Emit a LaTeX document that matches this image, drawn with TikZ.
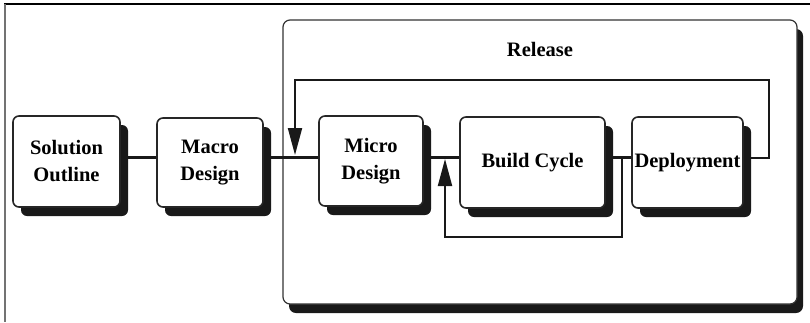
\documentclass[tikz,border=0pt]{standalone}
\usepackage{fontspec}
\setmainfont{Liberation Serif}
\usetikzlibrary{shadows,arrows.meta}
\begin{document}
\begin{tikzpicture}[x=1pt,y=-1pt,
  stage/.style={draw=black!85, line width=1.6pt, fill=white, rounded corners=6pt,
    align=center, inner sep=0pt, font=\fontsize{20.5}{27}\selectfont\bfseries,
    drop shadow={shadow xshift=8pt, shadow yshift=-9pt, fill=black!90, opacity=1}},
  conn/.style={line width=2.2pt, black!90},
  fb/.style={line width=2pt, black!90, -{Triangle[length=27pt,width=14pt]}}
]
\useasboundingbox (0,0) rectangle (810,322);
% page frame
\draw[line width=1.5pt, black] (4,4) -- (810,4);
\draw[line width=2pt, black!55] (4.5,4) -- (4.5,322);
% release box
\node[draw=black!80, line width=1.2pt, fill=white, rounded corners=7pt,
  minimum width=514pt, minimum height=284pt, inner sep=0pt,
  drop shadow={shadow xshift=6pt, shadow yshift=-9pt, fill=black!90, opacity=1}]
  (release) at (540,162) {};
\node[font=\fontsize{20.5}{24}\selectfont\bfseries] (rellabel) at (540,49) {Release};
% stages
\node[stage, minimum width=107pt, minimum height=91pt] (sol) at (66.5,161.5) {Solution\\Outline};
\node[stage, minimum width=106pt, minimum height=89pt] (mac) at (210,162.5) {Macro\\Design};
\node[stage, minimum width=104pt, minimum height=90pt] (mic) at (371,161) {Micro\\Design};
\node[stage, minimum width=145pt, minimum height=91pt] (bui) at (532.5,162.5) {Build Cycle};
\node[stage, minimum width=111pt, minimum height=91pt] (dep) at (687.5,162.5) {Deployment};
% main line
\coordinate (ml) at (0,157.5);
\draw[conn] (sol.east |- ml) -- (mac.west |- ml);
\draw[conn] (mac.east |- ml) -- (mic.west |- ml);
\draw[conn] (mic.east |- ml) -- (bui.west |- ml);
\draw[conn] (bui.east |- ml) -- (dep.west |- ml);
% feedback from deployment to micro design
\coordinate (f1a) at (769,80);
\coordinate (f1b) at (295,80);
\draw[fb] (dep.east |- ml) -- (f1a |- ml) -- (f1a) -- (f1b) -- (295,155);
% feedback from build cycle output back to build cycle input
\coordinate (f2a) at (622,237);
\coordinate (f2b) at (445,237);
\draw[fb] (f2a |- ml) -- (f2a) -- (f2b) -- (445,159);
\end{tikzpicture}
\end{document}
